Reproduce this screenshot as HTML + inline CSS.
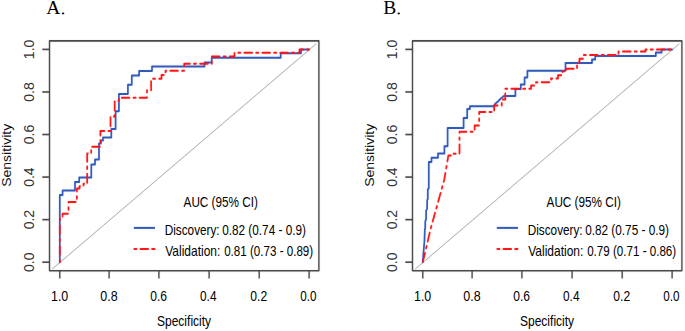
<!DOCTYPE html>
<html><head><meta charset="utf-8"><style>
html,body{margin:0;padding:0;background:#fff;width:685px;height:331px;overflow:hidden}
svg{display:block}
</style></head><body>
<svg width="685" height="331" viewBox="0 0 685 331">
<defs><filter id="bl" x="0" y="0" width="685" height="331" filterUnits="userSpaceOnUse"><feConvolveMatrix order="3" kernelMatrix="0.0019 0.0439 0.0019 0.0439 1.0000 0.0439 0.0019 0.0439 0.0019" edgeMode="none"/></filter></defs>
<rect width="685" height="331" fill="#fff"/>
<g filter="url(#bl)">
<g transform="scale(0.86,1)">
<path d="M57.56,40.9 H370.81 V270.8 H57.56 Z" fill="none" stroke="#404040" stroke-width="1.6" stroke-linejoin="round"/>
<line x1="49.19" y1="262.20" x2="57.56" y2="262.20" stroke="#404040" stroke-width="1.6"/>
<line x1="49.19" y1="219.64" x2="57.56" y2="219.64" stroke="#404040" stroke-width="1.6"/>
<line x1="49.19" y1="177.08" x2="57.56" y2="177.08" stroke="#404040" stroke-width="1.6"/>
<line x1="49.19" y1="134.52" x2="57.56" y2="134.52" stroke="#404040" stroke-width="1.6"/>
<line x1="49.19" y1="91.96" x2="57.56" y2="91.96" stroke="#404040" stroke-width="1.6"/>
<line x1="49.19" y1="49.40" x2="57.56" y2="49.40" stroke="#404040" stroke-width="1.6"/>
<line x1="69.53" y1="270.8" x2="69.53" y2="278.6" stroke="#404040" stroke-width="1.6"/>
<line x1="126.86" y1="270.8" x2="126.86" y2="278.6" stroke="#404040" stroke-width="1.6"/>
<line x1="184.77" y1="270.8" x2="184.77" y2="278.6" stroke="#404040" stroke-width="1.6"/>
<line x1="243.14" y1="270.8" x2="243.14" y2="278.6" stroke="#404040" stroke-width="1.6"/>
<line x1="301.40" y1="270.8" x2="301.40" y2="278.6" stroke="#404040" stroke-width="1.6"/>
<line x1="359.42" y1="270.8" x2="359.42" y2="278.6" stroke="#404040" stroke-width="1.6"/>
<line x1="60.58" y1="269.18" x2="367.79" y2="43.72" stroke="#9c9c9c" stroke-width="1"/>
<polyline points="69.53,262.20 69.53,195.00 72.79,195.00 72.79,190.60 87.21,190.60 87.21,182.00 92.09,182.00 92.09,177.50 106.16,177.50 106.16,164.50 110.47,164.50 110.47,159.60 115.12,159.60 115.12,143.50 117.44,143.50 117.44,140.50 119.77,140.50 119.77,137.50 129.42,137.50 129.42,129.00 134.42,129.00 134.42,111.30 138.26,111.30 138.26,93.90 148.72,93.90 148.72,84.80 153.26,84.80 153.26,75.50 161.74,75.50 161.74,71.00 176.74,71.00 176.74,66.50 237.79,66.50 237.79,62.50 246.16,62.50 246.16,57.80 326.40,57.80 326.40,53.30 350.00,53.30 350.00,49.40 359.42,49.40" fill="none" stroke="#2854b8" stroke-width="2" stroke-linejoin="round" stroke-linecap="round"/>
<polyline points="69.53,262.20 69.53,217.30 72.67,217.30 72.67,213.80 79.65,213.80 79.65,202.00 89.42,202.00 89.42,188.50 92.44,188.50 92.44,186.20 97.09,186.20 97.09,183.80 101.40,183.80 101.40,153.50 106.05,153.50 106.05,146.70 116.74,146.70 116.74,131.10 128.49,131.10 128.49,116.50 133.37,116.50 133.37,101.00 138.26,101.00 138.26,97.70 170.93,97.70 170.93,90.20 175.70,90.20 175.70,78.70 187.79,78.70 187.79,75.00 192.44,75.00 192.44,70.70 214.19,70.70 214.19,63.70 246.28,63.70 246.28,56.50 272.67,56.50 272.67,52.70 348.26,52.70 348.26,49.40 359.42,49.40" fill="none" stroke="#ff0a0a" stroke-width="2" stroke-linejoin="round" stroke-linecap="round" stroke-dasharray="2.45 4.7 9.0 4.7" stroke-dashoffset="0"/>
<line x1="155.58" y1="227.9" x2="180.23" y2="227.9" stroke="#2854b8" stroke-width="2"/>
<line x1="156.16" y1="248.9" x2="158.72" y2="248.9" stroke="#ff0a0a" stroke-width="2" stroke-linecap="round"/>
<line x1="163.26" y1="248.9" x2="172.33" y2="248.9" stroke="#ff0a0a" stroke-width="2" stroke-linecap="round"/>
<line x1="176.86" y1="248.9" x2="179.77" y2="248.9" stroke="#ff0a0a" stroke-width="2" stroke-linecap="round"/>
<path d="M479.65,40.9 H792.91 V270.8 H479.65 Z" fill="none" stroke="#404040" stroke-width="1.6" stroke-linejoin="round"/>
<line x1="471.28" y1="262.20" x2="479.65" y2="262.20" stroke="#404040" stroke-width="1.6"/>
<line x1="471.28" y1="219.64" x2="479.65" y2="219.64" stroke="#404040" stroke-width="1.6"/>
<line x1="471.28" y1="177.08" x2="479.65" y2="177.08" stroke="#404040" stroke-width="1.6"/>
<line x1="471.28" y1="134.52" x2="479.65" y2="134.52" stroke="#404040" stroke-width="1.6"/>
<line x1="471.28" y1="91.96" x2="479.65" y2="91.96" stroke="#404040" stroke-width="1.6"/>
<line x1="471.28" y1="49.40" x2="479.65" y2="49.40" stroke="#404040" stroke-width="1.6"/>
<line x1="491.63" y1="270.8" x2="491.63" y2="278.6" stroke="#404040" stroke-width="1.6"/>
<line x1="548.95" y1="270.8" x2="548.95" y2="278.6" stroke="#404040" stroke-width="1.6"/>
<line x1="606.86" y1="270.8" x2="606.86" y2="278.6" stroke="#404040" stroke-width="1.6"/>
<line x1="665.23" y1="270.8" x2="665.23" y2="278.6" stroke="#404040" stroke-width="1.6"/>
<line x1="723.49" y1="270.8" x2="723.49" y2="278.6" stroke="#404040" stroke-width="1.6"/>
<line x1="781.51" y1="270.8" x2="781.51" y2="278.6" stroke="#404040" stroke-width="1.6"/>
<line x1="482.67" y1="269.18" x2="789.88" y2="43.72" stroke="#9c9c9c" stroke-width="1"/>
<polyline points="491.63,262.20 492.09,255.70 492.67,250.50 493.60,240.00 493.95,230.00 494.42,228.00 494.53,221.00 495.47,219.50 495.47,210.50 496.63,209.00 496.74,200.00 497.44,199.00 497.44,189.50 498.60,188.30 498.60,161.90 501.74,161.90 501.74,157.80 509.30,157.80 509.30,153.50 516.74,153.50 516.74,146.30 520.47,146.30 520.47,128.10 539.07,128.10 539.07,118.10 543.26,118.10 543.26,109.00 546.40,109.00 546.40,106.30 573.72,106.30 575.81,103.80 579.19,101.40 581.40,99.30 584.30,97.20 585.81,95.90 599.30,95.90 599.30,89.00 605.58,89.00 605.58,84.60 610.00,84.60 610.00,77.60 613.26,77.60 613.26,70.70 657.56,70.70 657.56,63.10 688.37,63.10 688.37,59.50 692.09,59.50 692.09,55.90 762.56,55.90 762.56,52.40 769.30,52.40 769.30,49.40 781.51,49.40" fill="none" stroke="#2854b8" stroke-width="2" stroke-linejoin="round" stroke-linecap="round"/>
<polyline points="491.63,262.20 494.53,251.60 500.81,228.60 516.51,180.00 521.40,155.40 525.58,155.40 525.58,153.80 534.30,153.80 534.30,131.80 551.86,131.80 551.86,125.40 557.21,125.40 557.21,112.10 574.65,112.10 574.65,105.50 583.37,105.50 583.37,99.50 587.56,99.50 587.56,88.70 617.56,88.70 617.56,85.40 623.26,85.40 623.26,82.20 640.70,82.20 640.70,78.50 648.84,78.50 648.84,75.30 654.07,75.30 654.07,71.30 658.72,71.30 658.72,68.80 670.93,68.80 670.93,62.60 673.84,62.60 673.84,58.80 678.49,58.80 678.49,55.00 719.19,55.00 719.19,51.60 750.58,51.60 750.58,49.40 781.51,49.40" fill="none" stroke="#ff0a0a" stroke-width="2" stroke-linejoin="round" stroke-linecap="round" stroke-dasharray="2.45 4.7 9.0 4.7" stroke-dashoffset="6.5"/>
<line x1="577.67" y1="227.9" x2="602.33" y2="227.9" stroke="#2854b8" stroke-width="2"/>
<line x1="578.26" y1="248.9" x2="580.81" y2="248.9" stroke="#ff0a0a" stroke-width="2" stroke-linecap="round"/>
<line x1="585.35" y1="248.9" x2="594.42" y2="248.9" stroke="#ff0a0a" stroke-width="2" stroke-linecap="round"/>
<line x1="598.95" y1="248.9" x2="601.86" y2="248.9" stroke="#ff0a0a" stroke-width="2" stroke-linecap="round"/>
</g>
</g>
<text transform="translate(46.30,13.90) scale(1.000,1)" text-anchor="start" font-family="Liberation Serif" font-size="19.5" fill="#000">A</text>
<ellipse cx="63.1" cy="13.4" rx="1.2" ry="0.85" fill="#000"/>
<text transform="translate(50.97,300.60) scale(0.8883,1)" font-family="Liberation Sans" font-size="14" fill="#000">1.0</text>
<text transform="translate(100.31,300.60) scale(0.8883,1)" font-family="Liberation Sans" font-size="14" fill="#000">0.8</text>
<text transform="translate(150.33,300.60) scale(0.8610,1)" font-family="Liberation Sans" font-size="14" fill="#000">0.6</text>
<text transform="translate(200.03,300.60) scale(0.8464,1)" font-family="Liberation Sans" font-size="14" fill="#000">0.4</text>
<text transform="translate(250.32,300.60) scale(0.8658,1)" font-family="Liberation Sans" font-size="14" fill="#000">0.2</text>
<text transform="translate(300.34,300.60) scale(0.8370,1)" font-family="Liberation Sans" font-size="14" fill="#000">0.0</text>
<text transform="translate(156.94,325.70) scale(0.8604,1)" font-family="Liberation Sans" font-size="14" fill="#000">Specificity</text>
<text transform="translate(33.60,262.20) scale(1.000,1) rotate(-90)" text-anchor="middle" font-family="Liberation Sans" font-size="14" fill="#333">0.0</text>
<text transform="translate(33.60,219.64) scale(1.000,1) rotate(-90)" text-anchor="middle" font-family="Liberation Sans" font-size="14" fill="#333">0.2</text>
<text transform="translate(33.60,177.08) scale(1.000,1) rotate(-90)" text-anchor="middle" font-family="Liberation Sans" font-size="14" fill="#333">0.4</text>
<text transform="translate(33.60,134.52) scale(1.000,1) rotate(-90)" text-anchor="middle" font-family="Liberation Sans" font-size="14" fill="#333">0.6</text>
<text transform="translate(33.60,91.96) scale(1.000,1) rotate(-90)" text-anchor="middle" font-family="Liberation Sans" font-size="14" fill="#333">0.8</text>
<text transform="translate(33.60,49.40) scale(1.000,1) rotate(-90)" text-anchor="middle" font-family="Liberation Sans" font-size="14" fill="#333">1.0</text>
<text transform="translate(11.20,155.30) scale(0.900,1) rotate(-90)" text-anchor="middle" font-family="Liberation Sans" font-size="14" fill="#111">Sensitivity</text>
<text transform="translate(183.56,206.90) scale(0.8387,1)" font-family="Liberation Sans" font-size="14" fill="#000">AUC (95% CI)</text>
<text transform="translate(164.73,234.70) scale(0.8410,1)" font-family="Liberation Sans" font-size="14" fill="#000">Discovery:</text>
<text transform="translate(222.14,234.70) scale(0.8422,1)" font-family="Liberation Sans" font-size="14" fill="#000">0.82 (0.74 - 0.9)</text>
<text transform="translate(165.26,255.70) scale(0.8571,1)" font-family="Liberation Sans" font-size="14" fill="#000">Validation:</text>
<text transform="translate(224.14,255.70) scale(0.8292,1)" font-family="Liberation Sans" font-size="14" fill="#000">0.81 (0.73 - 0.89)</text>
<text transform="translate(383.30,13.90) scale(1.000,1)" text-anchor="start" font-family="Liberation Serif" font-size="19.5" fill="#000">B</text>
<ellipse cx="398.7" cy="13.4" rx="1.2" ry="0.85" fill="#000"/>
<text transform="translate(413.97,300.60) scale(0.8883,1)" font-family="Liberation Sans" font-size="14" fill="#000">1.0</text>
<text transform="translate(463.31,300.60) scale(0.8883,1)" font-family="Liberation Sans" font-size="14" fill="#000">0.8</text>
<text transform="translate(513.33,300.60) scale(0.8610,1)" font-family="Liberation Sans" font-size="14" fill="#000">0.6</text>
<text transform="translate(563.03,300.60) scale(0.8464,1)" font-family="Liberation Sans" font-size="14" fill="#000">0.4</text>
<text transform="translate(613.32,300.60) scale(0.8658,1)" font-family="Liberation Sans" font-size="14" fill="#000">0.2</text>
<text transform="translate(663.34,300.60) scale(0.8370,1)" font-family="Liberation Sans" font-size="14" fill="#000">0.0</text>
<text transform="translate(519.94,325.70) scale(0.8604,1)" font-family="Liberation Sans" font-size="14" fill="#000">Specificity</text>
<text transform="translate(396.60,262.20) scale(1.000,1) rotate(-90)" text-anchor="middle" font-family="Liberation Sans" font-size="14" fill="#333">0.0</text>
<text transform="translate(396.60,219.64) scale(1.000,1) rotate(-90)" text-anchor="middle" font-family="Liberation Sans" font-size="14" fill="#333">0.2</text>
<text transform="translate(396.60,177.08) scale(1.000,1) rotate(-90)" text-anchor="middle" font-family="Liberation Sans" font-size="14" fill="#333">0.4</text>
<text transform="translate(396.60,134.52) scale(1.000,1) rotate(-90)" text-anchor="middle" font-family="Liberation Sans" font-size="14" fill="#333">0.6</text>
<text transform="translate(396.60,91.96) scale(1.000,1) rotate(-90)" text-anchor="middle" font-family="Liberation Sans" font-size="14" fill="#333">0.8</text>
<text transform="translate(396.60,49.40) scale(1.000,1) rotate(-90)" text-anchor="middle" font-family="Liberation Sans" font-size="14" fill="#333">1.0</text>
<text transform="translate(374.20,155.30) scale(0.900,1) rotate(-90)" text-anchor="middle" font-family="Liberation Sans" font-size="14" fill="#111">Sensitivity</text>
<text transform="translate(546.56,206.90) scale(0.8387,1)" font-family="Liberation Sans" font-size="14" fill="#000">AUC (95% CI)</text>
<text transform="translate(527.73,234.70) scale(0.8410,1)" font-family="Liberation Sans" font-size="14" fill="#000">Discovery:</text>
<text transform="translate(585.14,234.70) scale(0.8422,1)" font-family="Liberation Sans" font-size="14" fill="#000">0.82 (0.75 - 0.9)</text>
<text transform="translate(528.26,255.70) scale(0.8571,1)" font-family="Liberation Sans" font-size="14" fill="#000">Validation:</text>
<text transform="translate(587.14,255.70) scale(0.8292,1)" font-family="Liberation Sans" font-size="14" fill="#000">0.79 (0.71 - 0.86)</text>
</svg>
</body></html>
